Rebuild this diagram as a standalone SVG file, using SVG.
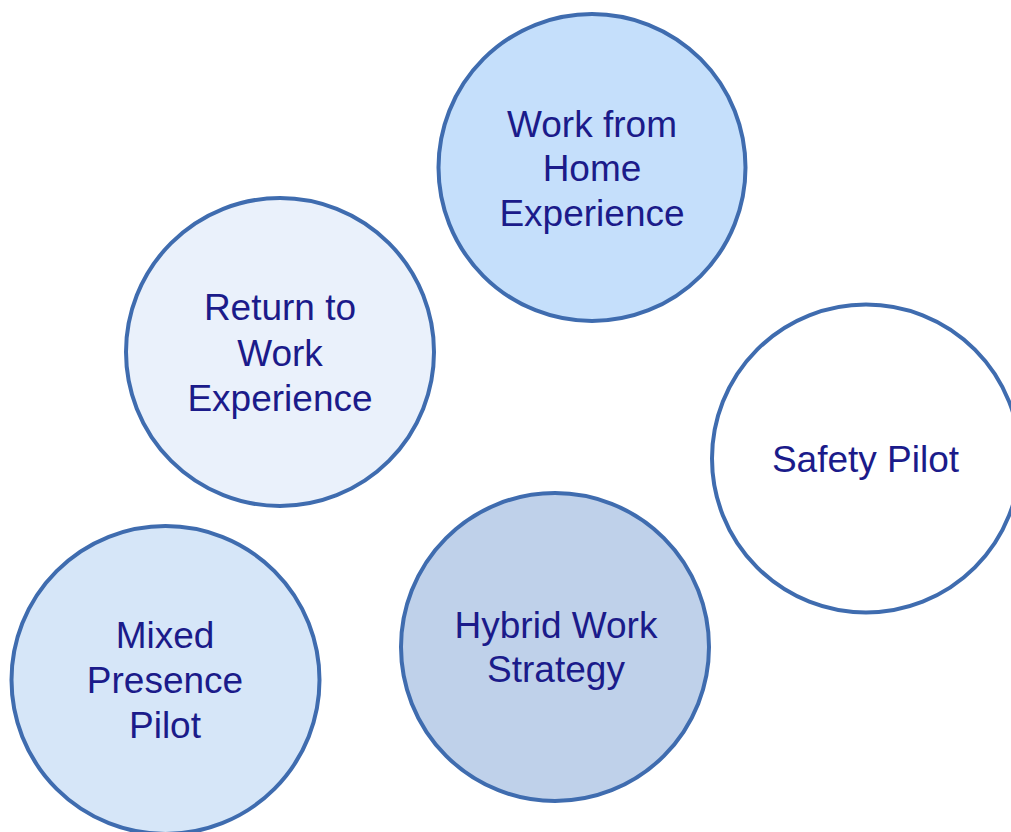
<svg xmlns="http://www.w3.org/2000/svg" width="1011" height="832" viewBox="0 0 1011 832">
<style>
.c{stroke:#3F6CAF;stroke-width:4}
.t{font-family:"Liberation Sans",Arial,sans-serif;font-size:37px;fill:#1B1B8A;text-anchor:middle}
</style>
<rect width="1011" height="832" fill="#FFFFFF"/>
<g id="connectors"></g>
<g id="wfh">
<circle class="c" cx="592" cy="167.5" r="153.5" fill="#C5DFFB"/>
<text class="t" x="592" y="137">Work from</text>
<text class="t" x="592" y="181">Home</text>
<text class="t" x="592" y="226">Experience</text>
</g>
<g id="rtw">
<circle class="c" cx="280" cy="352" r="154" fill="#EAF1FB"/>
<text class="t" x="280" y="320">Return to</text>
<text class="t" x="280" y="366">Work</text>
<text class="t" x="280" y="411">Experience</text>
</g>
<g id="safety">
<circle class="c" cx="866" cy="458.5" r="154" fill="#FFFFFF"/>
<text class="t" x="865.5" y="472">Safety Pilot</text>
</g>
<g id="hybrid">
<circle class="c" cx="555" cy="647" r="154" fill="#BFD1EA"/>
<text class="t" x="556" y="638">Hybrid Work</text>
<text class="t" x="556" y="682">Strategy</text>
</g>
<g id="mixed">
<circle class="c" cx="165.5" cy="680" r="154" fill="#D6E6F8"/>
<text class="t" x="165" y="648">Mixed</text>
<text class="t" x="165" y="693">Presence</text>
<text class="t" x="165" y="738">Pilot</text>
</g>
</svg>
